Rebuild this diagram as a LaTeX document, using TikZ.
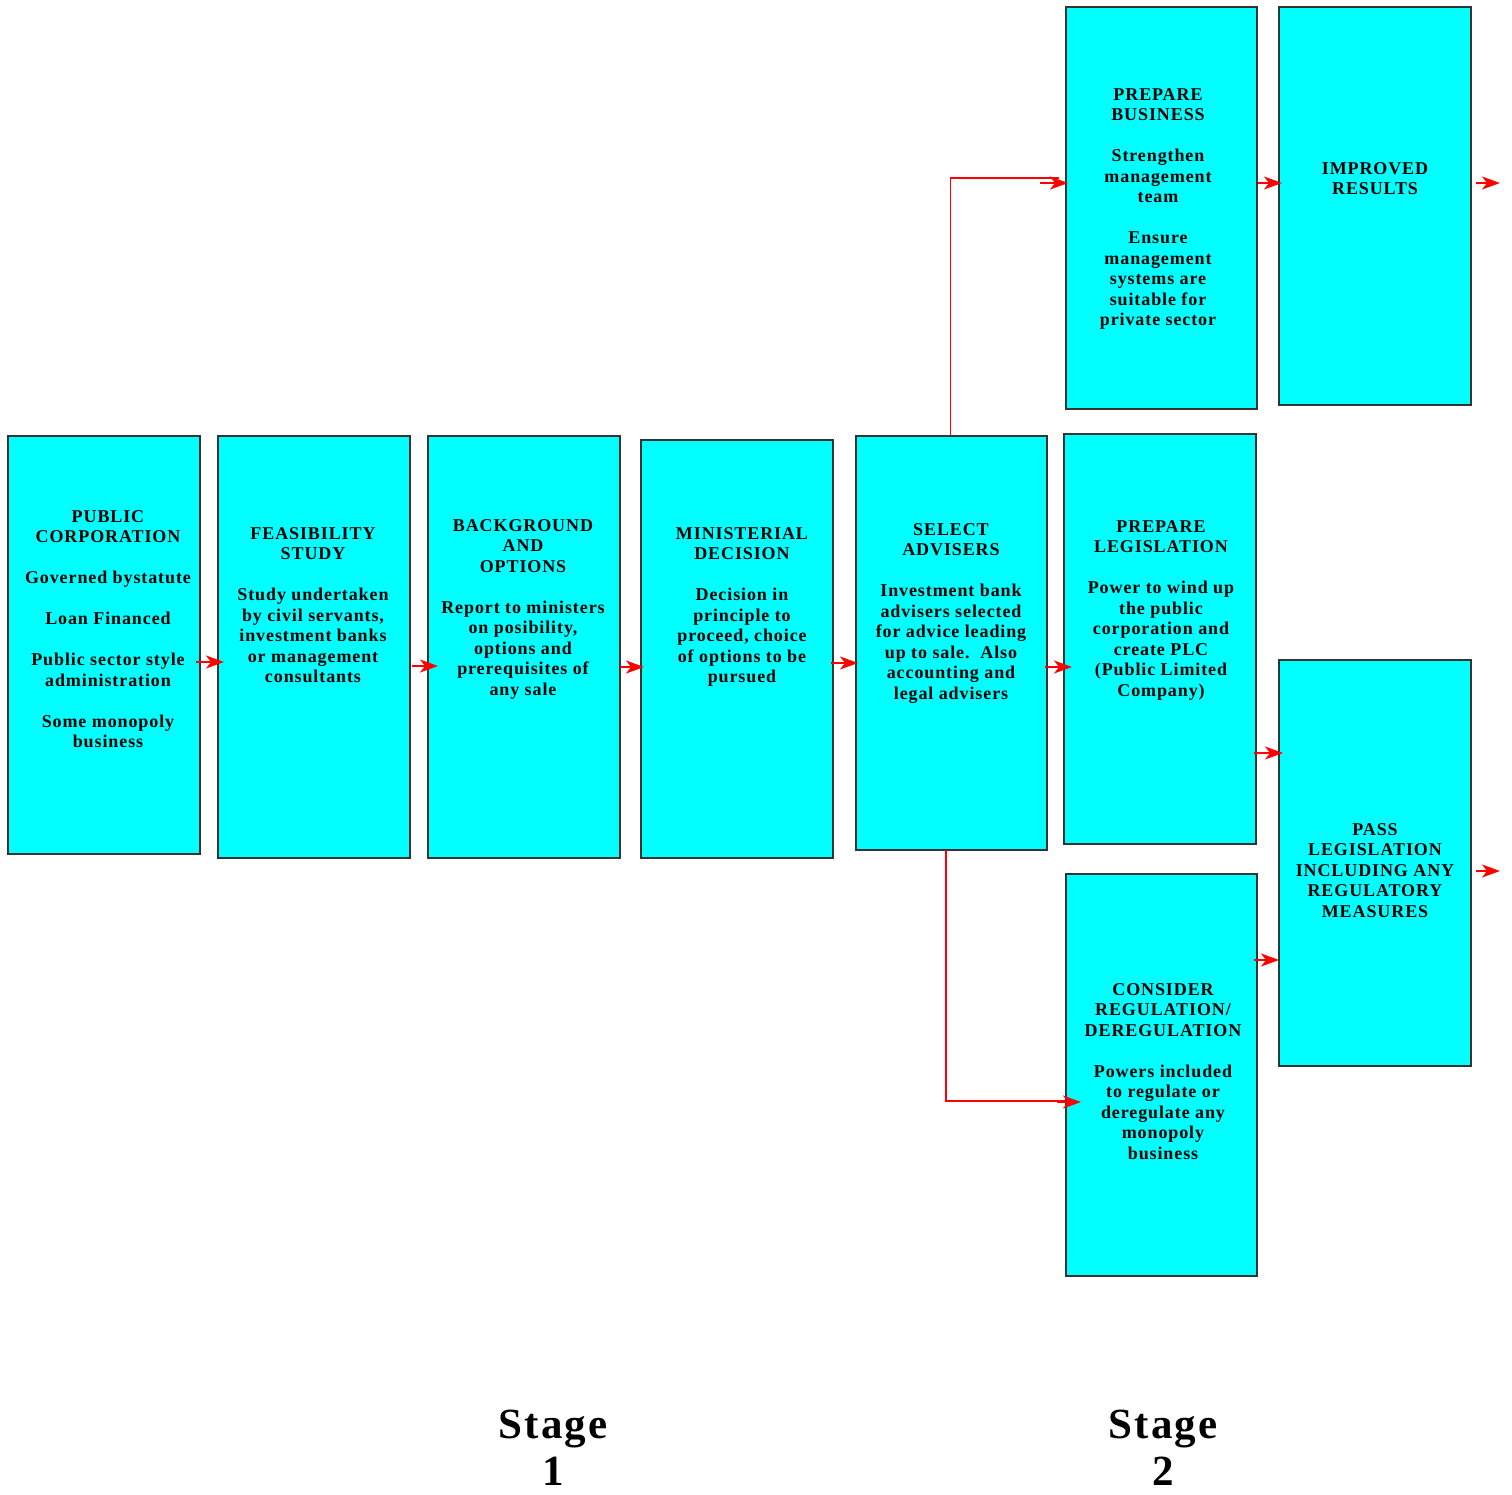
\documentclass[tikz,border=0pt]{standalone}
\usepackage{fontspec}
\setmainfont{Liberation Serif}
\newfontfamily\boxfont{Liberation Serif}[LetterSpace=5]
\usepackage{xcolor}
\usepackage{tikz}
\usetikzlibrary{arrows.meta,positioning}
\definecolor{boxfill}{HTML}{00FFFF}
\definecolor{boxedge}{HTML}{333333}
\definecolor{flowred}{HTML}{FF0000}

\begin{document}
\begin{tikzpicture}[
        x=1pt, y=-1pt,
        box/.style={draw=boxedge, fill=boxfill, line width=1.2pt, inner sep=0pt, outer sep=0pt},
        txt/.style={anchor=north, align=center, inner sep=0pt, font=\boxfont\bfseries\fontsize{18}{20.5}\selectfont},
        stage/.style={anchor=north, align=center, inner sep=0pt, font=\boxfont\bfseries\fontsize{43}{47}\selectfont},
        arr/.style={-{Stealth[length=18pt, width=13pt, inset=5pt]}, flowred, line width=1.4pt},
        link/.style={flowred, line width=1.1pt}
    ]
    \useasboundingbox (0,0) rectangle (1512,1494);

    % ============ stage 1 ============
    \node[box, minimum width=192, minimum height=418] (pub) at (104,645) {};
    \node[box, minimum width=192, minimum height=422] (feas) at (314,647) {};
    \node[box, minimum width=192, minimum height=422] (back) at (524,647) {};
    \node[box, minimum width=192, minimum height=418] (mini) at (737,649) {};
    \node[box, minimum width=191, minimum height=414] (sel) at (951.5,643) {};

    \node[txt] (pubtxt) at (108,510)
    {PUBLIC\\CORPORATION\\[20.5pt]Governed bystatute\\[20.5pt]Loan Financed\\[20.5pt]%
        Public sector style\\administration\\[20.5pt]Some monopoly\\business};
    \node[txt] (feastxt) at (313,527)
    {FEASIBILITY\\STUDY\\[20.5pt]Study undertaken\\by civil servants,\\investment banks\\%
        or management\\consultants};
    \node[txt] (backtxt) at (523,519)
    {BACKGROUND\\AND\\OPTIONS\\[20.5pt]Report to ministers\\on posibility,\\options and\\%
        prerequisites of\\any sale};
    \node[txt] (minitxt) at (742,527)
    {MINISTERIAL\\DECISION\\[20.5pt]Decision in\\principle to\\proceed, choice\\%
        of options to be\\pursued};
    \node[txt] (seltxt) at (951,523)
    {SELECT\\ADVISERS\\[20.5pt]Investment bank\\advisers selected\\for advice leading\\%
        up to sale.\ \ Also\\accounting and\\legal advisers};

    % ============ stage 2 ============
    \node[box, minimum width=191, minimum height=402] (bus) at (1161.5,208) {};
    \node[box, minimum width=192, minimum height=398] (res) at (1375,206) {};
    \node[box, minimum width=192, minimum height=410] (leg) at (1160,639) {};
    \node[box, minimum width=191, minimum height=402] (reg) at (1161.5,1075) {};
    \node[box, minimum width=192, minimum height=406] (pass) at (1375,863) {};

    \node[txt] (bustxt) at (1158,88)
    {PREPARE\\BUSINESS\\[20.5pt]Strengthen\\management\\team\\[20.5pt]Ensure\\management\\%
        systems are\\suitable for\\private sector};
    \node[txt] (restxt) at (1375,162) {IMPROVED\\RESULTS};
    \node[txt] (legtxt) at (1161,520)
    {PREPARE\\LEGISLATION\\[20.5pt]Power to wind up\\the public\\corporation and\\%
        create PLC\\(Public Limited\\Company)};
    \node[txt] (regtxt) at (1163,983)
    {CONSIDER\\REGULATION/\\DEREGULATION\\[20.5pt]Powers included\\to regulate or\\%
        deregulate any\\monopoly\\business};
    \node[txt] (passtxt) at (1375,823)
    {PASS\\LEGISLATION\\INCLUDING ANY\\REGULATORY\\MEASURES};

    % ============ arrows ============
    \draw[arr] ([shift={(-4,17)}]pub.east) -- ([shift={(6,15)}]feas.west);
    \draw[arr] ([shift={(2,19)}]feas.east) -- ([shift={(10,19)}]back.west);
    \draw[arr] ([shift={(0,20)}]back.east) -- ([shift={(3,18)}]mini.west);
    \draw[arr] ([shift={(-2,14)}]mini.east) -- ([shift={(2,20)}]sel.west);
    \draw[arr] ([shift={(-2,24)}]sel.east) -- ([shift={(8,28)}]leg.west);

    % branches out of the adviser box
    \draw[link] ([xshift=-1pt]sel.north) |- ([shift={(-7,-30)}]bus.west);
    \draw[arr] ([shift={(-26,-25)}]bus.west) -- ([shift={(2,-25)}]bus.west);
    \draw[link] ([xshift=-5.5pt]sel.south) |- ([shift={(-1,26)}]reg.west);
    \draw[arr] ([shift={(-9,27)}]reg.west) -- ([shift={(15,27)}]reg.west);

    \draw[arr] ([shift={(1,-25)}]bus.east) -- ([shift={(3,-23)}]res.west);
    \draw[arr] ([shift={(5,-23)}]res.east) -- ([shift={(29,-23)}]res.east);
    \draw[arr] ([shift={(-2,114)}]leg.east) -- ([shift={(4,-110)}]pass.west);
    \draw[arr] ([shift={(-3,-115)}]reg.east) -- ([shift={(0,97)}]pass.west);
    \draw[arr] ([shift={(5,8)}]pass.east) -- ([shift={(29,8)}]pass.east);

    % ============ stage labels ============
    \node[stage] (stage1) at (553,1410) {Stage\\1};
    \node[stage] (stage2) at (1163,1410) {Stage\\2};
\end{tikzpicture}
\end{document}
